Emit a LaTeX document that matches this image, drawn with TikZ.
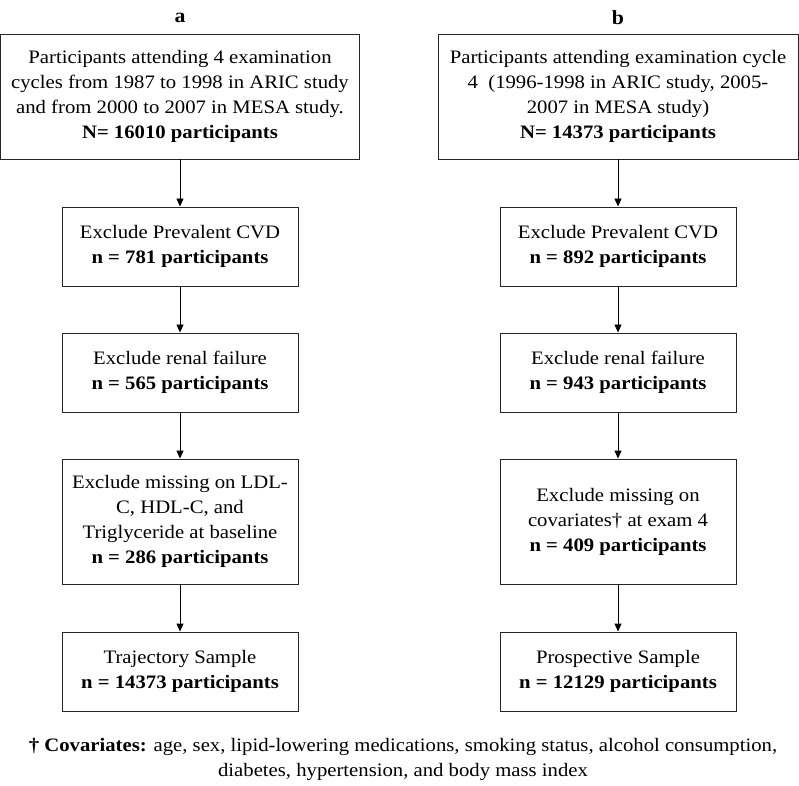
\documentclass[tikz,border=0pt]{standalone}
\usepackage{fontspec}
\setmainfont{Liberation Serif}[FakeStretch=1.09]
\usetikzlibrary{arrows.meta}
\begin{document}
\begin{tikzpicture}[x=1pt,y=1pt,
  box/.style={draw=black!85, line width=0.9pt, align=center, inner sep=0pt,
    font=\fontsize{19}{25}\selectfont},
  bigbox/.style={box, minimum height=125pt},
  smallbox/.style={box, minimum width=236pt, minimum height=79pt},
  tallbox/.style={box, minimum width=236pt, minimum height=125pt},
  flow/.style={draw=black, line width=0.9pt, -{Triangle[width=7pt,length=8pt]}},
  panel/.style={font=\fontsize{20}{24}\selectfont\bfseries},
  note/.style={align=center, font=\fontsize{19}{25}\selectfont}]
\useasboundingbox (0,0) rectangle (799,785);
\node[panel] (la) at (180,767) {a};
\node[panel] (lb) at (618,767) {b};
% left column
\node[bigbox, minimum width=359pt] (a1) at (180,688.5) {Participants attending 4 examination\\cycles from 1987 to 1998 in ARIC study\\and from 2000 to 2007 in MESA study.\\\textbf{N= 16010 participants}};
\node[smallbox] (a2) at (180,538.5) {Exclude Prevalent CVD\\\textbf{n = 781 participants}};
\node[smallbox] (a3) at (180,412.5) {Exclude renal failure\\\textbf{n = 565 participants}};
\node[tallbox] (a4) at (180,263.5) {Exclude missing on LDL-\\C, HDL-C, and\\Triglyceride at baseline\\\textbf{n = 286 participants}};
\node[smallbox] (a5) at (180,113.5) {Trajectory Sample\\\textbf{n = 14373 participants}};
% right column
\node[bigbox, minimum width=360pt] (b1) at (618,688.5) {Participants attending examination cycle\\4\ \ (1996-1998 in ARIC study, 2005-\\2007 in MESA study)\\\textbf{N= 14373 participants}};
\node[smallbox] (b2) at (618,538.5) {Exclude Prevalent CVD\\\textbf{n = 892 participants}};
\node[smallbox] (b3) at (618,412.5) {Exclude renal failure\\\textbf{n = 943 participants}};
\node[tallbox] (b4) at (618,263.5) {Exclude missing on\\covariates† at exam 4\\\textbf{n = 409 participants}};
\node[smallbox] (b5) at (618,113.5) {Prospective Sample\\\textbf{n = 12129 participants}};
% arrows
\draw[flow] (a1) -- (a2);
\draw[flow] (a2) -- (a3);
\draw[flow] (a3) -- (a4);
\draw[flow] (a4) -- (a5);
\draw[flow] (b1) -- (b2);
\draw[flow] (b2) -- (b3);
\draw[flow] (b3) -- (b4);
\draw[flow] (b4) -- (b5);
% footnote
\node[note] (fn) at (403,25.5) {\textbf{† Covariates:} age, sex, lipid-lowering medications, smoking status, alcohol consumption,\\diabetes, hypertension, and body mass index};
\end{tikzpicture}
\end{document}
